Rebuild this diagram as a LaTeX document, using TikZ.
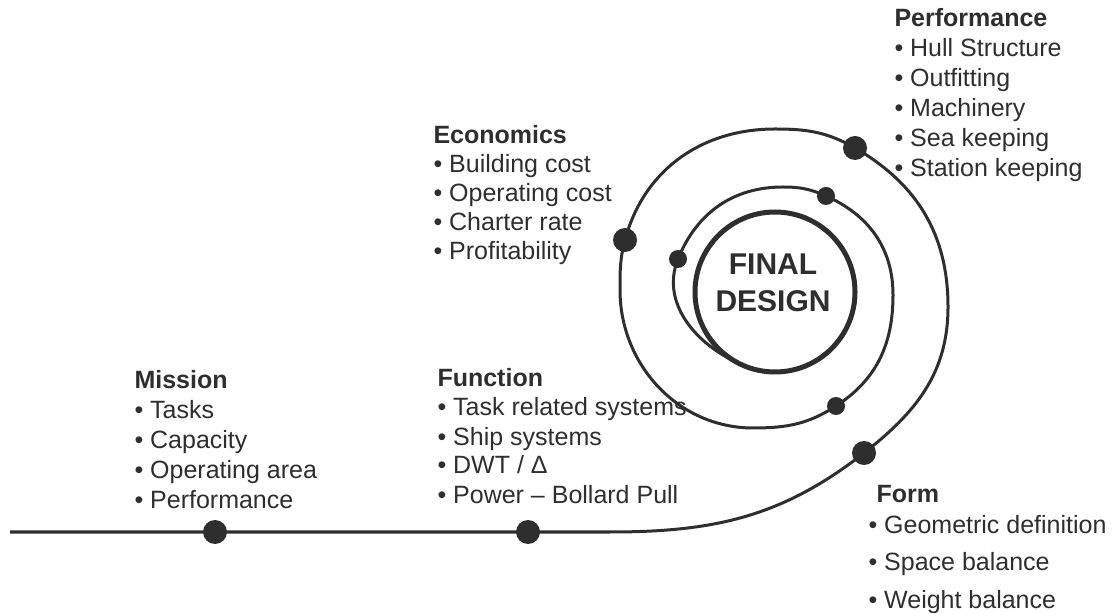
\documentclass[tikz,border=0pt]{standalone}
\usepackage{fontspec}
\setmainfont{Liberation Sans}
\usetikzlibrary{positioning}
\definecolor{ink}{HTML}{2E2E2E}

\begin{document}
\begin{tikzpicture}[x=1pt,y=1pt,line width=3pt,color=ink,
			bigdot/.style={circle,fill=ink,draw=none,minimum size=24pt,inner sep=0pt},
			smalldot/.style={circle,fill=ink,draw=none,minimum size=18pt,inner sep=0pt},
			block/.style={align=left,inner sep=0pt,anchor=base west,text=ink}]
				\useasboundingbox (0,0) rectangle (1113,613);
				
				% points on the spiral
				\coordinate (S)  at (10,81);
				\coordinate (B)  at (610,81);
				\coordinate (F)  at (864,160);
				\coordinate (r1) at (948,306);
				\coordinate (P)  at (855,465);
				\coordinate (t1) at (775,484);
				\coordinate (E)  at (625,373);
				\coordinate (l1) at (620,323);
				\coordinate (b1) at (753,185);
				\coordinate (Q)  at (836,207);
				\coordinate (r2) at (893,318);
				\coordinate (R)  at (826,417);
				\coordinate (t2) at (783,426);
				\coordinate (U)  at (678,354);
				\coordinate (Z)  at (748,246);
				
				\draw (S) -- (B) to[out=0,in=218] (F)
					to[out=38,in=270] (r1)
					to[out=90,in=330] (P)
					to[out=150,in=0] (t1)
					to[out=180,in=75] (E)
					to[out=255,in=90] (l1)
					to[out=270,in=180] (b1)
					to[out=0,in=213] (Q)
					to[out=33,in=270] (r2)
					to[out=90,in=336] (R)
					to[out=156,in=0] (t2)
					to[out=180,in=68] (U)
					to[out=248,in=160] (Z);
				
				\node[circle,draw,line width=5pt,minimum size=160pt] (core) at (775,321) {};
				\node[align=center,inner sep=0pt,font=\bfseries\fontsize{30}{37}\selectfont] (final) at (773,330) {FINAL\\DESIGN};
				
				\node[bigdot] (dMission)  at (215,81) {};
				\node[bigdot] (dFunction) at (528,81) {};
				\node[bigdot] (dForm)     at (F) {};
				\node[bigdot] (dEcon)     at (E) {};
				\node[bigdot] (dPerf)     at (P) {};
				\node[smalldot] (dQ) at (Q) {};
				\node[smalldot] (dR) at (R) {};
				\node[smalldot] (dU) at (U) {};
				
				% text blocks, placed by the baseline of their last line
				\node[block,font=\fontsize{25}{30}\selectfont] (mission) at (133,104)
					{\textbf{Mission}\\• Tasks\\• Capacity\\• Operating area\\• Performance};
				\node[block,font=\fontsize{25}{29}\selectfont] (function) at (436,110)
					{\textbf{Function}\\• Task related systems\\• Ship systems\\• DWT / Δ\\• Power – Bollard Pull};
				\node[block,font=\fontsize{25}{29}\selectfont] (economics) at (432,353)
					{\textbf{Economics}\\• Building cost\\• Operating cost\\• Charter rate\\• Profitability};
				\node[block,font=\fontsize{25}{30}\selectfont] (performance) at (893,436)
					{\textbf{Performance}\\• Hull Structure\\• Outfitting\\• Machinery\\• Sea keeping\\• Station keeping};
				\node[block,font=\fontsize{25}{31}\selectfont] (form) at (867,5)
					{\hspace*{8pt}\textbf{Form}\\• Geometric definition\\[6pt]• Space balance\\[7pt]• Weight balance};
			\end{tikzpicture}
\end{document}
